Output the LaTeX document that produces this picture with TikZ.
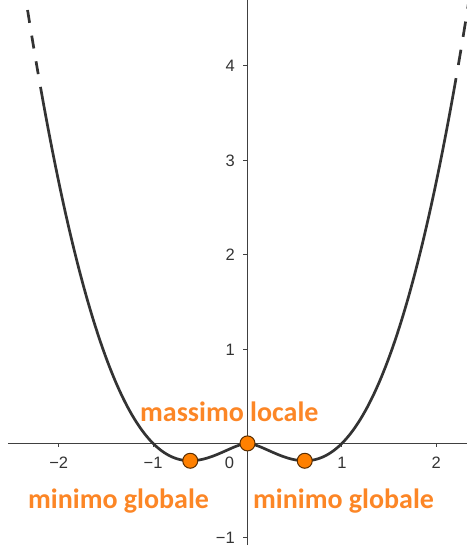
\documentclass[tikz,border=0pt]{standalone}
\usepackage{fontspec}
\setmainfont{Liberation Sans}
\newfontfamily\labelfont{Carlito}
\definecolor{dotorange}{RGB}{255,128,0}
\definecolor{txtorange}{RGB}{252,134,38}
\definecolor{curvegray}{RGB}{51,51,51}
\definecolor{axisgray}{RGB}{64,64,64}
\definecolor{dotedge}{RGB}{90,45,0}
\begin{document}
\begin{tikzpicture}[x=94.4pt,y=94.4pt,
  axisline/.style={line width=1.5pt, draw=axisgray},
  tickmark/.style={line width=1pt, draw=axisgray},
  ticklabel/.style={inner sep=0pt, text=curvegray, font=\fontsize{16.5}{18}\selectfont},
  curve/.style={line width=2.7pt, draw=curvegray, line join=round},
  dot/.style={circle, minimum size=15pt, inner sep=0pt, fill=dotorange, draw=dotedge, line width=1pt},
  lbl/.style={inner sep=0pt, text=txtorange, font=\labelfont\bfseries\fontsize{28}{30}\selectfont}]
\useasboundingbox (-247.5pt,-106.6pt) rectangle (219.5pt,443.4pt);
% axes
\coordinate (xL) at (-239.5pt,0);
\coordinate (xR) at (219.5pt,0);
\coordinate (yB) at (0,-101.6pt);
\coordinate (yT) at (0,443.4pt);
\draw[axisline] (xL) -- (xR);
\draw[axisline] (yB) -- (yT);
% x ticks
\foreach \t/\lab in {-2/−2,-1/−1,1/1,2/2}{
  \draw[tickmark] (\t,0) -- ++(0,-4pt);
  \node[ticklabel, anchor=base] at ([yshift=-24.9pt]\t,0) {\lab};
}
\node[ticklabel, anchor=base] (zero) at (-18pt,-24.9pt) {0};
% y ticks
\foreach \t/\lab in {-1/−1,1/1,2/2,3/3,4/4}{
  \draw[tickmark] (0,\t) -- ++(-4pt,0);
  \node[ticklabel, anchor=base east] at ([xshift=-12.5pt,yshift=-6pt]0,\t) {\lab};
}
% curve
\begin{scope}
\clip (-247.5pt,-106.6pt) rectangle (219.5pt,443.4pt);
\draw[curve] plot[domain=-2.193:-0.004, samples=160, smooth] (\x,{\x*\x*ln(abs(\x))})
  -- plot[domain=0.004:2.21, samples=160, smooth] (\x,{\x*\x*ln(abs(\x))});
\draw[curve, dash pattern=on 13pt off 13pt, dash phase=13pt]
  plot[domain=-2.193:-2.37, samples=30, smooth] (\x,{\x*\x*ln(abs(\x))});
\draw[curve, dash pattern=on 15.5pt off 13pt, dash phase=15.5pt]
  plot[domain=2.21:2.37, samples=30, smooth] (\x,{\x*\x*ln(abs(\x))});
\end{scope}
% points
\node[dot] (minL) at (-0.6065,-0.1839) {};
\node[dot] (maxC) at (0,0) {};
\node[dot] (minR) at (0.6065,-0.1839) {};
% labels
\node[lbl, anchor=base west] (maxlabel) at (-107.5pt,21.7pt) {massimo locale};
\node[lbl, anchor=base west] (minLlabel) at (-219.5pt,-64.6pt) {minimo globale};
\node[lbl, anchor=base west] (minRlabel) at (5.5pt,-64.6pt) {minimo globale};
\end{tikzpicture}
\end{document}
